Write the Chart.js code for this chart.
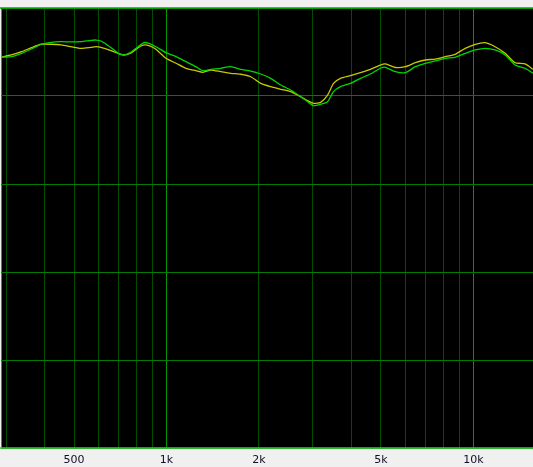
<!DOCTYPE html>
<html>
<head>
<meta charset="utf-8">
<script src="https://cdn.jsdelivr.net/npm/chart.js@4/dist/chart.umd.min.js"></script>
<style>
  html, body { margin: 0; padding: 0; background: #f0f0f0; overflow: hidden; }
  canvas { display: block; }
</style>
</head>
<body>
<canvas id="freqChart" width="533" height="467"></canvas>
<script>
// frequencies in Hz
const freqs = [290, 312, 337, 363, 391, 421, 454, 489, 527, 568, 590, 612, 660, 696, 727, 767,
  808, 845, 877, 924, 996, 1074, 1157, 1247, 1314, 1395, 1503, 1620, 1746, 1882, 2028, 2186,
  2356, 2539, 2736, 2884, 3016, 3178, 3349, 3502, 3690, 3977, 4286, 4619, 4978, 5168, 5570,
  6003, 6470, 6972, 7514, 8098, 8728, 9406, 10140, 10920, 11770, 12690, 13670, 14740, 15640];
// level (dB, relative) per channel
const yellowLevels = [4.40, 4.66, 5.03, 5.49, 5.88, 5.88, 5.80, 5.60, 5.42, 5.53, 5.60, 5.53, 5.15, 4.85, 4.66, 4.89,
  5.49, 5.80, 5.72, 5.31, 4.28, 3.72, 3.15, 2.88, 2.69, 2.95, 2.76, 2.58, 2.47, 2.19, 1.44, 1.06,
  0.76, 0.49, -0.08, -0.53, -0.83, -0.72, 0.11, 1.44, 2.01, 2.31, 2.65, 3.03, 3.52, 3.64, 3.24,
  3.33, 3.78, 4.09, 4.20, 4.47, 4.74, 5.42, 5.88, 6.06, 5.60, 4.85, 3.78, 3.64, 3.03];
const greenLevels = [4.40, 4.47, 4.85, 5.34, 5.88, 6.10, 6.17, 6.14, 6.17, 6.33, 6.36, 6.25, 5.49, 4.85, 4.66, 5.00,
  5.60, 6.06, 5.99, 5.60, 4.92, 4.47, 3.90, 3.33, 2.88, 3.03, 3.15, 3.33, 3.03, 2.84, 2.50, 2.01,
  1.25, 0.68, -0.08, -0.65, -1.10, -0.94, -0.65, 0.49, 1.06, 1.44, 2.01, 2.50, 3.15, 3.26, 2.76,
  2.65, 3.33, 3.72, 3.98, 4.28, 4.40, 4.85, 5.23, 5.42, 5.23, 4.66, 3.52, 3.15, 2.58];

const gridFreqs = [300, 400, 500, 600, 700, 800, 900, 1000, 2000, 3000, 4000, 5000, 6000, 7000, 8000, 9000, 10000];
const tickLabels = { 500: '500', 1000: '1k', 2000: '2k', 5000: '5k', 10000: '10k' };

function toPoints(levels) {
  return freqs.map((f, i) => ({ x: f, y: levels[i] }));
}

// black plot area + green frame lines
const plotBackground = {
  id: 'plotBackground',
  beforeDraw(chart) {
    const ctx = chart.ctx;
    const a = chart.chartArea;
    ctx.save();
    ctx.fillStyle = '#f0f0f0';
    ctx.fillRect(0, 0, chart.width, chart.height);
    ctx.fillStyle = '#000000';
    ctx.fillRect(a.left, a.top, a.right - a.left, a.bottom - a.top);
    ctx.restore();
  },
  afterDraw(chart) {
    const ctx = chart.ctx;
    const a = chart.chartArea;
    ctx.save();
    ctx.lineWidth = 1.5;
    ctx.strokeStyle = 'rgb(0,170,0)';
    ctx.beginPath();
    ctx.moveTo(0, a.top);
    ctx.lineTo(chart.width, a.top);
    ctx.stroke();
    ctx.strokeStyle = 'rgb(60,200,60)';
    ctx.beginPath();
    ctx.moveTo(0, a.bottom);
    ctx.lineTo(chart.width, a.bottom);
    ctx.stroke();
    ctx.restore();
  }
};

const ctx = document.getElementById('freqChart').getContext('2d');
const chart = new Chart(ctx, {
  type: 'line',
  data: {
    datasets: [
      {
        label: 'Green',
        data: toPoints(greenLevels),
        borderColor: 'rgb(0,215,0)',
        borderWidth: 1.3,
        pointRadius: 0,
        tension: 0.2,
        fill: false
      },
      {
        label: 'Yellow',
        data: toPoints(yellowLevels),
        borderColor: 'rgb(200,200,0)',
        borderWidth: 1.3,
        pointRadius: 0,
        tension: 0.2,
        fill: false
      }
    ]
  },
  options: {
    responsive: false,
    animation: false,
    layout: { padding: { top: 8, left: 0, right: 0, bottom: 0 } },
    plugins: {
      legend: { display: false },
      tooltip: { enabled: false }
    },
    scales: {
      x: {
        type: 'logarithmic',
        min: 290,
        max: 15640,
        afterBuildTicks: (scale) => {
          scale.ticks = gridFreqs.map(v => ({ value: v }));
        },
        afterFit: (scale) => { scale.height = 19; },
        grid: {
          drawTicks: false,
          color: (c) => (c.tick && (c.tick.value === 1000 || c.tick.value === 10000)) ? 'rgb(0,150,0)' : 'rgb(0,80,0)',
          lineWidth: 1
        },
        border: { display: false },
        ticks: {
          autoSkip: false,
          maxRotation: 0,
          padding: 6,
          color: '#101028',
          font: { family: 'DejaVu Sans', size: 11 },
          callback: (value) => tickLabels[value] || ''
        }
      },
      y: {
        min: -40,
        max: 10,
        afterFit: (scale) => { scale.width = 0; },
        ticks: { display: false, stepSize: 10 },
        grid: { drawTicks: false, color: 'rgb(0,125,0)', lineWidth: 1 },
        border: { display: false }
      }
    }
  },
  plugins: [plotBackground]
});
</script>
</body>
</html>
